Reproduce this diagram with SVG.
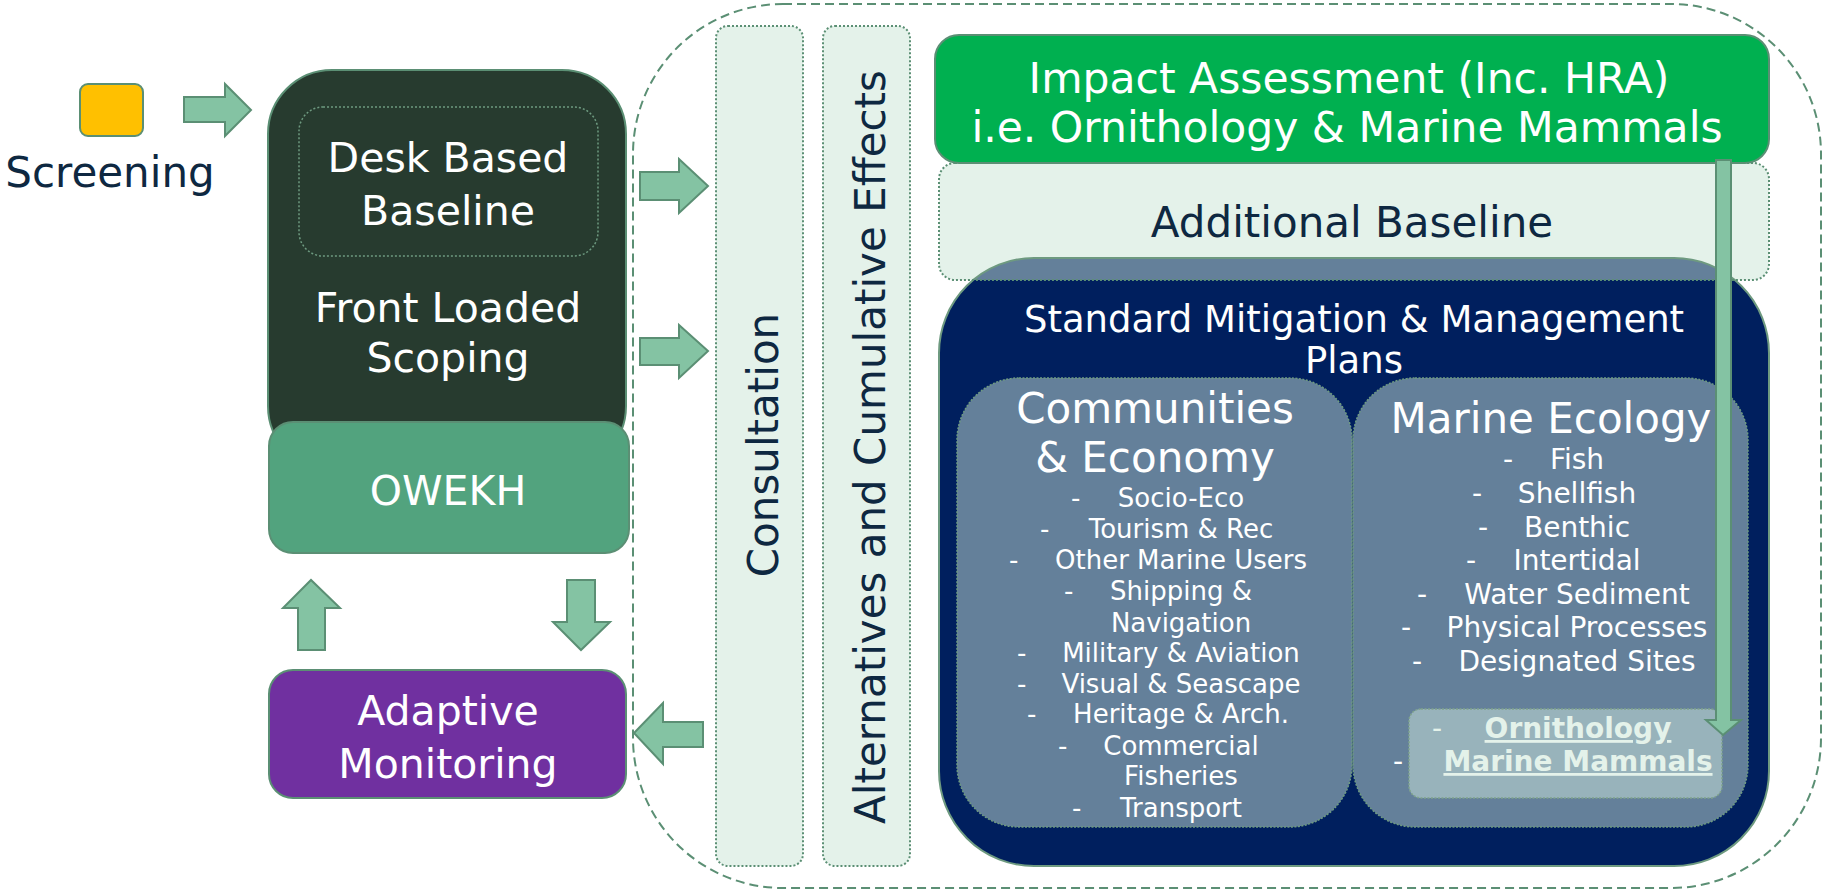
<svg xmlns="http://www.w3.org/2000/svg" width="1825" height="893" viewBox="0 0 1825 893">
<style>
text{font-family:"DejaVu Sans",Verdana,sans-serif}
.w{fill:#ffffff}
.dk{fill:#0E2841}
.arr{fill:#84C3A3;stroke:#5B8F74;stroke-width:2;stroke-linejoin:miter}
.lt{fill:#E4F2EA;stroke:#5B8F74;stroke-width:2;stroke-dasharray:2 2}
.sl{fill:#64809A;stroke:#6E9A80;stroke-width:1.5;stroke-dasharray:2 1.5}
.big{font-size:42px}
.mid{font-size:41px}
.itm{font-size:26px;fill:#ffffff}
.itm2{font-size:28px;fill:#ffffff}
.orn{font-size:28px;font-weight:bold;fill:#E4F2EA;text-decoration:underline}
</style>
<defs>
<clipPath id="navyClip"><rect x="939" y="258" width="830" height="608" rx="95" ry="95"/></clipPath>
</defs>

<rect id="boundary" x="633" y="4" width="1188" height="884" rx="150" ry="150" fill="none" stroke="#5B8F74" stroke-width="2" stroke-dasharray="9 5"/>

<g id="screening">
<rect x="80" y="84" width="63" height="52" rx="8" fill="#FFC000" stroke="#5B8F74" stroke-width="2"/>
<text x="110" y="187" text-anchor="middle" class="dk" style="font-size:42px">Screening</text>
</g>

<g id="scoping">
<rect x="268" y="70" width="358" height="400" rx="64" fill="#273B2F" stroke="#5B8F74" stroke-width="2"/>
<rect x="299" y="107" width="299" height="149" rx="24" fill="none" stroke="#6E9A80" stroke-width="1.5" stroke-dasharray="2 2"/>
<text x="448" y="172" text-anchor="middle" class="w mid">Desk Based</text>
<text x="448" y="225" text-anchor="middle" class="w mid">Baseline</text>
<text x="448" y="322" text-anchor="middle" class="w mid">Front Loaded</text>
<text x="448" y="372" text-anchor="middle" class="w mid">Scoping</text>
</g>

<g id="owekh">
<rect x="269" y="422" width="360" height="131" rx="24" fill="#52A37E" stroke="#5B8F74" stroke-width="2"/>
<text x="448" y="505" text-anchor="middle" class="w mid">OWEKH</text>
</g>

<g id="adaptive">
<rect x="269" y="670" width="357" height="128" rx="24" fill="#7030A0" stroke="#5B8F74" stroke-width="2"/>
<text x="448" y="725" text-anchor="middle" class="w mid">Adaptive</text>
<text x="448" y="778" text-anchor="middle" class="w mid">Monitoring</text>
</g>

<g id="consultation">
<rect x="716" y="26" width="87" height="840" rx="12" class="lt"/>
<text transform="translate(778,445) rotate(-90)" text-anchor="middle" class="dk big">Consultation</text>
</g>

<g id="alternatives">
<rect x="823" y="26" width="87" height="840" rx="12" class="lt"/>
<text transform="translate(885,447) rotate(-90)" text-anchor="middle" class="dk big">Alternatives and Cumulative Effects</text>
</g>

<g id="additional-baseline">
<rect x="939" y="163" width="830" height="117" rx="16" fill="#E4F2EA"/>
<text x="1352" y="237" text-anchor="middle" class="dk big">Additional Baseline</text>
</g>

<g id="standard-mitigation">
<rect x="939" y="258" width="830" height="608" rx="95" ry="95" fill="#001F5E"/>
<rect x="930" y="250" width="850" height="30" fill="#64809A" clip-path="url(#navyClip)"/>
<rect x="939" y="258" width="830" height="608" rx="95" ry="95" fill="none" stroke="#6E9A80" stroke-width="2"/>
<text x="1354" y="332" text-anchor="middle" class="w" style="font-size:37px">Standard Mitigation &amp; Management</text>
<text x="1354" y="373" text-anchor="middle" class="w" style="font-size:37px">Plans</text>
</g>

<rect x="939" y="163" width="830" height="117" rx="16" fill="none" stroke="#5B8F74" stroke-width="2" stroke-dasharray="2 2"/>

<g id="impact-assessment">
<rect x="935" y="35" width="834" height="128" rx="24" fill="#00B050" stroke="#5B8F74" stroke-width="2"/>
<text x="1349" y="93" text-anchor="middle" class="w" style="font-size:42.5px">Impact Assessment (Inc. HRA)</text>
<text x="1347" y="142" text-anchor="middle" class="w" style="font-size:42.5px">i.e. Ornithology &amp; Marine Mammals</text>
</g>

<g id="communities">
<rect x="957" y="378" width="395" height="449" rx="62" class="sl"/>
<text x="1155" y="423" text-anchor="middle" class="w big">Communities</text>
<text x="1155" y="472" text-anchor="middle" class="w big">&amp; Economy</text>
<g class="itm">
<text x="1071" y="507">-</text><text x="1181" y="507" text-anchor="middle">Socio-Eco</text>
<text x="1040" y="538">-</text><text x="1181" y="538" text-anchor="middle">Tourism &amp; Rec</text>
<text x="1009" y="569">-</text><text x="1181" y="569" text-anchor="middle">Other Marine Users</text>
<text x="1064" y="600">-</text><text x="1181" y="600" text-anchor="middle">Shipping &amp;</text>
<text x="1181" y="632" text-anchor="middle">Navigation</text>
<text x="1017" y="662">-</text><text x="1181" y="662" text-anchor="middle">Military &amp; Aviation</text>
<text x="1017" y="693">-</text><text x="1181" y="693" text-anchor="middle">Visual &amp; Seascape</text>
<text x="1027" y="723">-</text><text x="1181" y="723" text-anchor="middle">Heritage &amp; Arch.</text>
<text x="1058" y="755">-</text><text x="1181" y="755" text-anchor="middle">Commercial</text>
<text x="1181" y="785" text-anchor="middle">Fisheries</text>
<text x="1072" y="817">-</text><text x="1181" y="817" text-anchor="middle">Transport</text>
</g>
</g>

<g id="marine-ecology">
<rect x="1353" y="378" width="395" height="449" rx="62" class="sl"/>
<text x="1551" y="433" text-anchor="middle" class="w big">Marine Ecology</text>
<g class="itm2">
<text x="1503" y="469">-</text><text x="1577" y="469" text-anchor="middle">Fish</text>
<text x="1472" y="503">-</text><text x="1577" y="503" text-anchor="middle">Shellfish</text>
<text x="1478" y="537">-</text><text x="1577" y="537" text-anchor="middle">Benthic</text>
<text x="1466" y="570">-</text><text x="1577" y="570" text-anchor="middle">Intertidal</text>
<text x="1417" y="604">-</text><text x="1577" y="604" text-anchor="middle">Water Sediment</text>
<text x="1401" y="637">-</text><text x="1577" y="637" text-anchor="middle">Physical Processes</text>
<text x="1412" y="671">-</text><text x="1577" y="671" text-anchor="middle">Designated Sites</text>
</g>
</g>

<g id="ornithology">
<rect x="1409" y="709" width="313" height="89" rx="12" fill="#98B3BB" stroke="#7FA38C" stroke-width="1.5" stroke-dasharray="2 1.5"/>
<text x="1432" y="738" class="itm2" style="fill:#E4F2EA">-</text>
<text x="1578" y="738" text-anchor="middle" class="orn">Ornithology</text>
<text x="1393" y="771" class="itm2">-</text>
<text x="1578" y="771" text-anchor="middle" class="orn">Marine Mammals</text>
</g>

<g id="connectors">
<polygon class="arr" points="184,97 225,97 225,84 251,110 225,136 225,122 184,122"/>
<polygon class="arr" points="640,172 679,172 679,159 708,186 679,213 679,200 640,200"/>
<polygon class="arr" points="640,338 679,338 679,325 708,351 679,378 679,365 640,365"/>
<polygon class="arr" points="703,722 663,722 663,703 634,733 663,764 663,747 703,747"/>
<polygon class="arr" points="298,650 298,608 283,608 311,580 340,608 325,608 325,650"/>
<polygon class="arr" points="567,580 595,580 595,622 610,622 581,650 553,622 567,622"/>
<polygon class="arr" points="1716,160 1731,160 1731,720 1741,720 1723,735 1706,720 1716,720"/>
</g>
</svg>
